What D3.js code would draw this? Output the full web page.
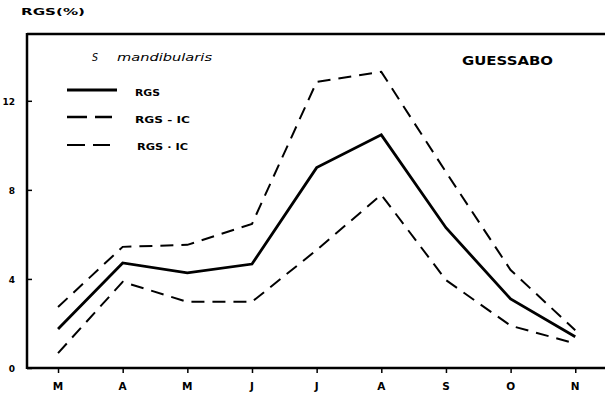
<!DOCTYPE html>
<html><head><meta charset="utf-8">
<script src="https://cdn.jsdelivr.net/npm/d3@7/dist/d3.min.js"></script>
<style>body{margin:0;background:#fff}svg{display:block}</style>
</head><body>
<svg id="c" width="605" height="398"></svg>
<script>
const months = ["M","A","M","J","J","A","S","O","N"];
const rgs   = [1.75, 4.72, 4.27, 4.67, 9.0, 10.47, 6.3, 3.1, 1.4];
const upper = [2.74, 5.44, 5.53, 6.47, 12.85, 13.3, 8.8, 4.4, 1.7];
const lower = [0.67, 3.87, 2.97, 2.97, 5.3, 7.78, 3.95, 1.9, 1.1];
const yTicks = [0, 4, 8, 12];

const svg = d3.select("#c");
const x = d3.scaleLinear().domain([-0.48, 8.46]).range([27, 605]);
const y = d3.scaleLinear().domain([0, 15]).range([368, 34]);
const font = "'DejaVu Sans', 'Liberation Sans', Arial, sans-serif";

function txt(s, x0, yb, size, w, opts={}) {
  const t = svg.append("text").attr("x",x0).attr("y",yb).attr("font-family",font)
    .attr("font-size",size).attr("font-weight",opts.weight||"bold").text(s);
  if (opts.italic) t.attr("font-style","italic");
  if (w) t.attr("textLength",w).attr("lengthAdjust","spacingAndGlyphs");
  return t;
}

// axes
const yAxis = svg.append("g").attr("transform","translate(27,0)")
  .call(d3.axisRight(y).tickValues(yTicks).tickSize(5).tickFormat(""));
yAxis.select(".domain").remove();
yAxis.selectAll("line").attr("stroke","#000").attr("stroke-width",1.5);
yTicks.forEach(d=>{
  txt(String(d), 15, y(d)+4, 9).attr("text-anchor","end");
});

const xAxis = svg.append("g").attr("transform","translate(0,368)")
  .call(d3.axisBottom(x).tickValues(d3.range(months.length)).tickSize(5).tickFormat(""));
xAxis.select(".domain").remove();
xAxis.selectAll("line").attr("stroke","#000").attr("stroke-width",1.5);
months.forEach((m,i)=>{
  txt(m, x(i), 390, 10.5).attr("text-anchor","middle");
});

// frame lines
svg.append("line").attr("x1",27).attr("x2",605).attr("y1",368).attr("y2",368).attr("stroke","#000").attr("stroke-width",2.5);
svg.append("line").attr("x1",27).attr("x2",605).attr("y1",34).attr("y2",34).attr("stroke","#000").attr("stroke-width",2.5);
svg.append("line").attr("x1",27).attr("x2",27).attr("y1",33).attr("y2",369).attr("stroke","#000").attr("stroke-width",2.5);

// series
const line = d3.line().x((d,i)=>x(i)).y(d=>y(d));
svg.append("path").datum(upper).attr("d",line).attr("fill","none").attr("stroke","#000")
  .attr("stroke-width",2).attr("stroke-dasharray","13,8");
svg.append("path").datum(lower).attr("d",line).attr("fill","none").attr("stroke","#000")
  .attr("stroke-width",2).attr("stroke-dasharray","13,8");
svg.append("path").datum(rgs).attr("d",line).attr("fill","none").attr("stroke","#000")
  .attr("stroke-width",2.8);

// texts
txt("RGS(%)", 21, 15, 9, 64);
txt("S", 92, 61, 11, 6, {italic:true, weight:"normal"});
txt("mandibularis", 117, 61, 10, 95, {italic:true, weight:"normal"});
txt("GUESSABO", 462, 65, 12, 91);

// legend
const leg = [
  {label:"RGS", dash:null, w:2.8, ly:90, ty:96, tx:135, tw:25, x2:117},
  {label:"RGS - IC", dash:"20,8", w:2.6, ly:117, ty:123, tx:135, tw:55, x2:112},
  {label:"RGS · IC", dash:"18,8", w:1.8, ly:145, ty:150, tx:137, tw:51, x2:110}
];
leg.forEach(l=>{
  const ln = svg.append("line").attr("x1",67).attr("x2",l.x2).attr("y1",l.ly).attr("y2",l.ly)
    .attr("stroke","#000").attr("stroke-width",l.w);
  if(l.dash) ln.attr("stroke-dasharray",l.dash);
  txt(l.label, l.tx, l.ty, 8, l.tw);
});
</script>
</body></html>
